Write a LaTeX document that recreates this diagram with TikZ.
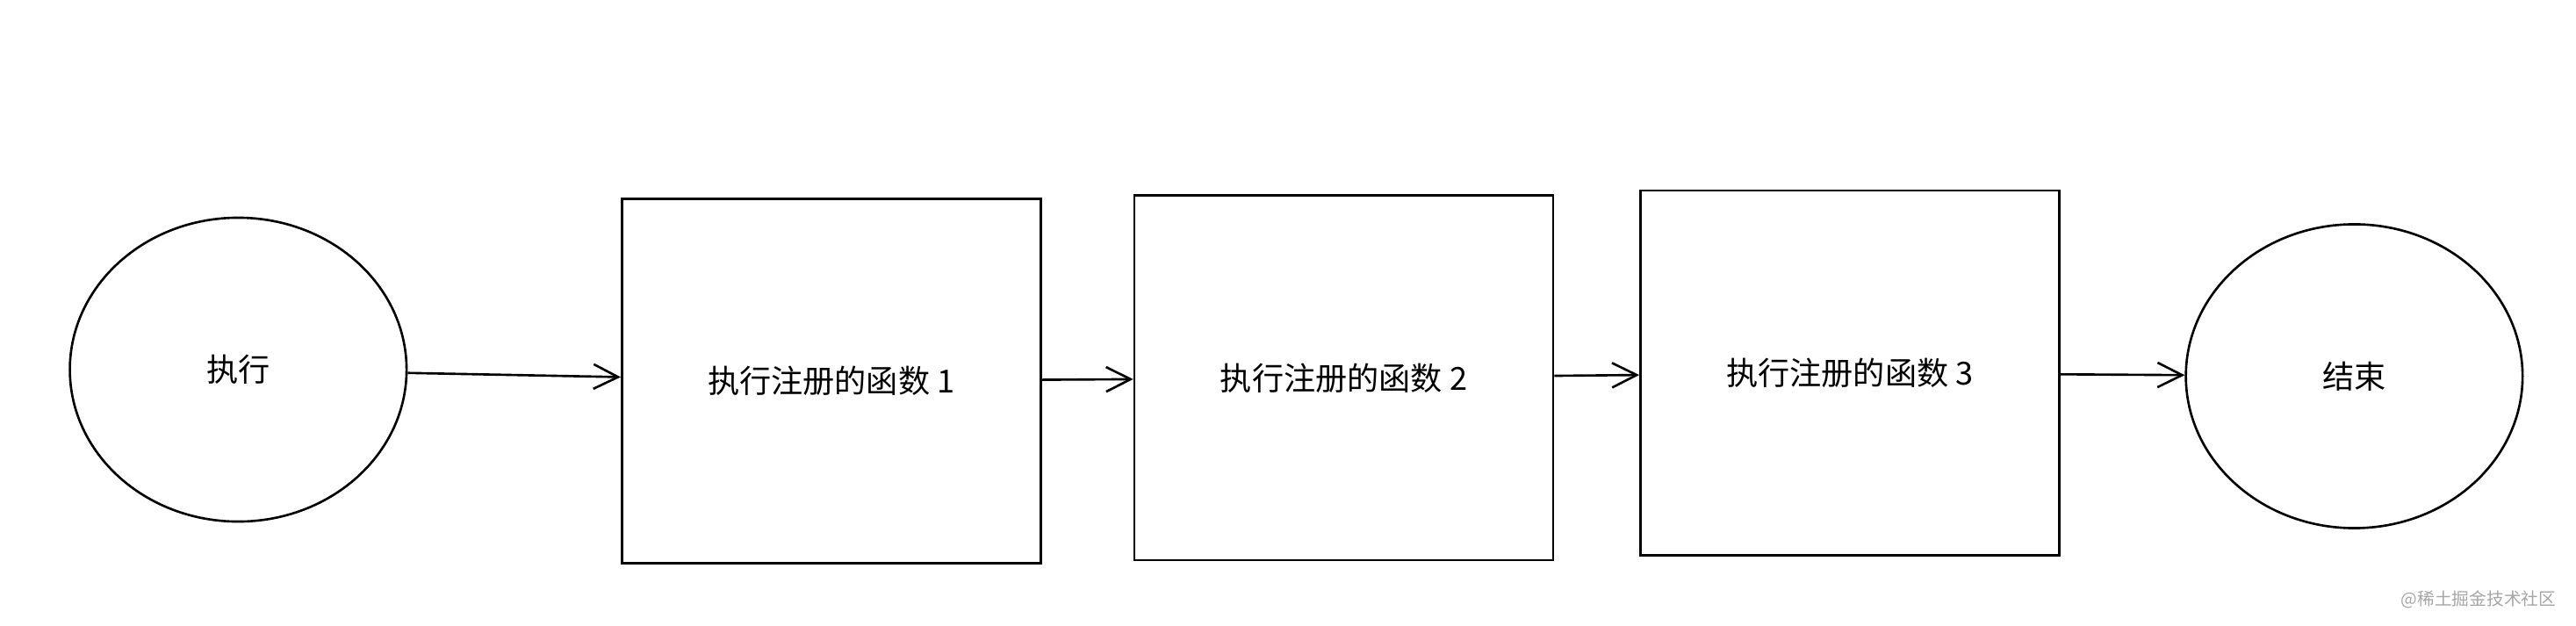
\documentclass[tikz,border=0pt]{standalone}
\usepackage{fontspec}
\setmainfont{Noto Sans CJK SC}
\usetikzlibrary{arrows.meta,positioning,shapes.geometric}

\begin{document}
\begin{tikzpicture}[x=0.02cm, y=-0.02cm]
    % Define styles
    \tikzset{
        stepbox/.style={draw, thick, rectangle, minimum width=5.1cm, minimum height=4.44cm, font=\fontsize{11}{13}\selectfont},
        terminal/.style={draw, thick, ellipse, minimum width=4.1cm, minimum height=3.7cm, font=\fontsize{11}{13}\selectfont},
        arrow/.style={-{Straight Barb[length=3mm, width=3mm]}, thick}
    }
    \useasboundingbox (0,0) rectangle (1568,381);

    % Place nodes
    \node[terminal] (start) at (145,225) {执行};
    \node[stepbox] (f1) at (506,232) {执行注册的函数 1};
    \node[stepbox] (f2) at (818,230) {执行注册的函数 2};
    \node[stepbox] (f3) at (1126,227) {执行注册的函数 3};
    \node[terminal] (stop) at (1433,229) {结束};

    % Draw arrows
    \draw[arrow] (start) -- (f1);
    \draw[arrow] (f1) -- (f2);
    \draw[arrow] (f2) -- (f3);
    \draw[arrow] (f3) -- (stop);

    % Watermark
    \node[text=gray!70, font=\fontsize{6}{7}\selectfont, anchor=east] (mark) at (1562,365) {@稀土掘金技术社区};
\end{tikzpicture}
\end{document}
